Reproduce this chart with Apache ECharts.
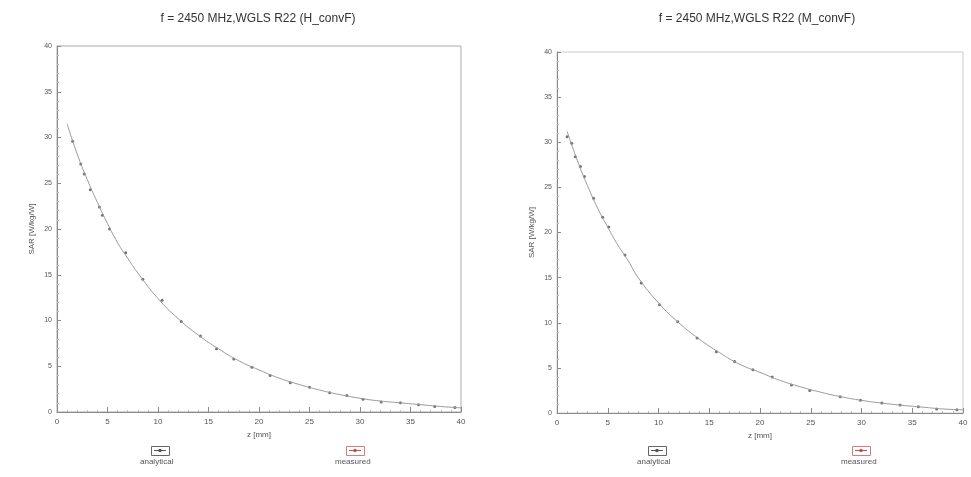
<!DOCTYPE html>
<html>
<head>
<meta charset="utf-8">
<script src="https://cdn.jsdelivr.net/npm/echarts@6/dist/echarts.min.js"></script>
<style>
html,body{margin:0;padding:0;background:#fff;}
#c{width:971px;height:477px;}
</style>
</head>
<body>
<div id="c"></div>
<script>
// ---- data ----
var titleLeft = 'f = 2450 MHz,WGLS R22 (H_convF)';
var titleRight = 'f = 2450 MHz,WGLS R22 (M_convF)';
var xTicks = [0, 5, 10, 15, 20, 25, 30, 35, 40];
var yTicks = [0, 5, 10, 15, 20, 25, 30, 35, 40];

var analyticalZLeft = [1, 2, 3, 4, 5, 6, 7, 8, 10, 12, 14, 16, 18, 20, 22, 24, 26, 28, 30, 32, 34, 36, 38, 40];
var analyticalSarLeft = [31.5, 28.2, 25.4, 22.9, 20.6, 18.5, 16.8, 15.2, 12.4, 10.2, 8.4, 6.9, 5.6, 4.6, 3.7, 3.0, 2.4, 1.9, 1.5, 1.2, 1.0, 0.8, 0.6, 0.45];
var measuredZLeft = [1.55, 2.35, 2.7, 3.3, 4.2, 4.5, 5.2, 6.8, 8.5, 10.4, 12.3, 14.2, 15.8, 17.5, 19.3, 21.1, 23.1, 25.0, 27.0, 28.7, 30.3, 32.1, 34.0, 35.8, 37.4, 39.4];
var measuredSarLeft = [29.6, 27.1, 26.0, 24.3, 22.4, 21.5, 20.0, 17.4, 14.5, 12.2, 9.9, 8.3, 6.9, 5.8, 4.9, 4.0, 3.2, 2.7, 2.1, 1.8, 1.4, 1.1, 1.0, 0.8, 0.6, 0.5];

var analyticalZRight = [1, 2, 3, 4, 5, 6, 7, 8, 10, 12, 14, 16, 18, 20, 22, 24, 26, 28, 30, 32, 34, 36, 38, 40];
var analyticalSarRight = [31.2, 28.0, 25.2, 22.7, 20.6, 18.6, 16.9, 15.0, 12.2, 10.0, 8.2, 6.7, 5.4, 4.5, 3.6, 2.9, 2.3, 1.8, 1.4, 1.1, 0.85, 0.65, 0.45, 0.35];
var measuredZRight = [1.0, 1.45, 1.8, 2.3, 2.7, 3.6, 4.5, 5.1, 6.7, 8.3, 10.1, 11.9, 13.8, 15.7, 17.5, 19.3, 21.2, 23.1, 24.9, 27.9, 29.9, 32.0, 33.8, 35.6, 37.4, 39.4];
var measuredSarRight = [30.6, 29.9, 28.4, 27.3, 26.2, 23.8, 21.7, 20.6, 17.5, 14.4, 12.0, 10.1, 8.3, 6.8, 5.7, 4.8, 4.0, 3.1, 2.5, 1.8, 1.4, 1.1, 0.9, 0.7, 0.45, 0.35];

var legendNames = ['analytical', 'measured'];
var axisNameX = 'z [mm]';
var axisNameY = 'SAR [W/kg/W]';

function pairs(xs, ys) { return xs.map(function (x, i) { return [x, ys[i]]; }); }

var font = 'Liberation Sans, Arial, sans-serif';
var axisCol = '#8a8a8a';
var txtCol = '#555';
var anaCol = '#9a9a9a';
var meaCol = '#5a4a4a';

function xAxis(gi) {
  return {
    gridIndex: gi, type: 'value', min: 0, max: 40, interval: 5,
    name: axisNameX, nameLocation: 'middle', nameGap: 18,
    nameTextStyle: { fontFamily: font, fontSize: 8, color: txtCol },
    axisLine: { lineStyle: { color: axisCol, width: 1 } },
    axisTick: { inside: true, length: 5, lineStyle: { color: axisCol } },
    minorTick: { show: true, splitNumber: 5, length: 2, lineStyle: { color: '#bbb' } },
    axisLabel: { fontFamily: font, fontSize: 8, color: txtCol, margin: 6,
      formatter: function (v) { return xTicks.indexOf(v) >= 0 ? String(v) : ''; } },
    splitLine: { show: false }
  };
}
function yAxis(gi) {
  return {
    gridIndex: gi, type: 'value', min: 0, max: 40, interval: 5,
    name: axisNameY, nameLocation: 'middle', nameGap: 21, nameRotate: 90,
    nameTextStyle: { fontFamily: font, fontSize: 8, color: txtCol },
    axisLine: { lineStyle: { color: axisCol, width: 1 } },
    axisTick: { inside: true, length: 4, lineStyle: { color: axisCol } },
    minorTick: { show: true, splitNumber: 5, length: 2, lineStyle: { color: '#bbb' } },
    axisLabel: { fontFamily: font, fontSize: 7, color: txtCol, margin: 5,
      formatter: function (v) { return yTicks.indexOf(v) >= 0 ? String(v) : ''; } },
    splitLine: { show: false }
  };
}

function legendItem(cx, name, boxCol, markCol) {
  return [
    { type: 'rect', left: cx - 9, top: 446, shape: { width: 18, height: 9 },
      style: { fill: 'rgba(0,0,0,0)', stroke: boxCol, lineWidth: 1 } },
    { type: 'line', shape: { x1: cx - 6, y1: 450.5, x2: cx + 6, y2: 450.5 },
      style: { stroke: markCol, lineWidth: 1 } },
    { type: 'circle', shape: { cx: cx, cy: 450.5, r: 1.8 }, style: { fill: markCol } },
    { type: 'text', left: cx - 20, top: 458,
      style: { text: name, fontFamily: font, fontSize: 8, fill: txtCol, width: 40, align: 'center' } }
  ];
}

var chart = echarts.init(document.getElementById('c'));
var option = {
  backgroundColor: '#fff',
  animation: false,
  title: [
    { text: titleLeft, left: 253, top: 8, textAlign: 'center',
      textStyle: { fontFamily: font, fontSize: 12, fontWeight: 'normal', color: '#333' } },
    { text: titleRight, left: 752, top: 8, textAlign: 'center',
      textStyle: { fontFamily: font, fontSize: 12, fontWeight: 'normal', color: '#333' } }
  ],
  grid: [
    { left: 57, top: 46, width: 404, height: 366, show: true, borderColor: '#aaa', borderWidth: 1, backgroundColor: 'transparent' },
    { left: 557, top: 52, width: 406, height: 361, show: true, borderColor: '#ccc', borderWidth: 1, backgroundColor: 'transparent' }
  ],
  xAxis: [xAxis(0), xAxis(1)],
  yAxis: [yAxis(0), yAxis(1)],
  series: [
    { name: legendNames[0], type: 'line', xAxisIndex: 0, yAxisIndex: 0, smooth: true,
      showSymbol: false, lineStyle: { color: anaCol, width: 1 }, data: pairs(analyticalZLeft, analyticalSarLeft) },
    { name: legendNames[1], type: 'scatter', xAxisIndex: 0, yAxisIndex: 0, symbol: 'circle', symbolSize: 3,
      itemStyle: { color: meaCol }, data: pairs(measuredZLeft, measuredSarLeft) },
    { name: legendNames[0], type: 'line', xAxisIndex: 1, yAxisIndex: 1, smooth: true,
      showSymbol: false, lineStyle: { color: anaCol, width: 1 }, data: pairs(analyticalZRight, analyticalSarRight) },
    { name: legendNames[1], type: 'scatter', xAxisIndex: 1, yAxisIndex: 1, symbol: 'circle', symbolSize: 3,
      itemStyle: { color: meaCol }, data: pairs(measuredZRight, measuredSarRight) }
  ],
  graphic: [].concat(
    legendItem(160, legendNames[0], '#666', '#555'),
    legendItem(355, legendNames[1], '#d08080', '#c05050'),
    legendItem(657, legendNames[0], '#666', '#555'),
    legendItem(861, legendNames[1], '#d08080', '#c05050')
  )
};
chart.setOption(option);
</script>
</body>
</html>
